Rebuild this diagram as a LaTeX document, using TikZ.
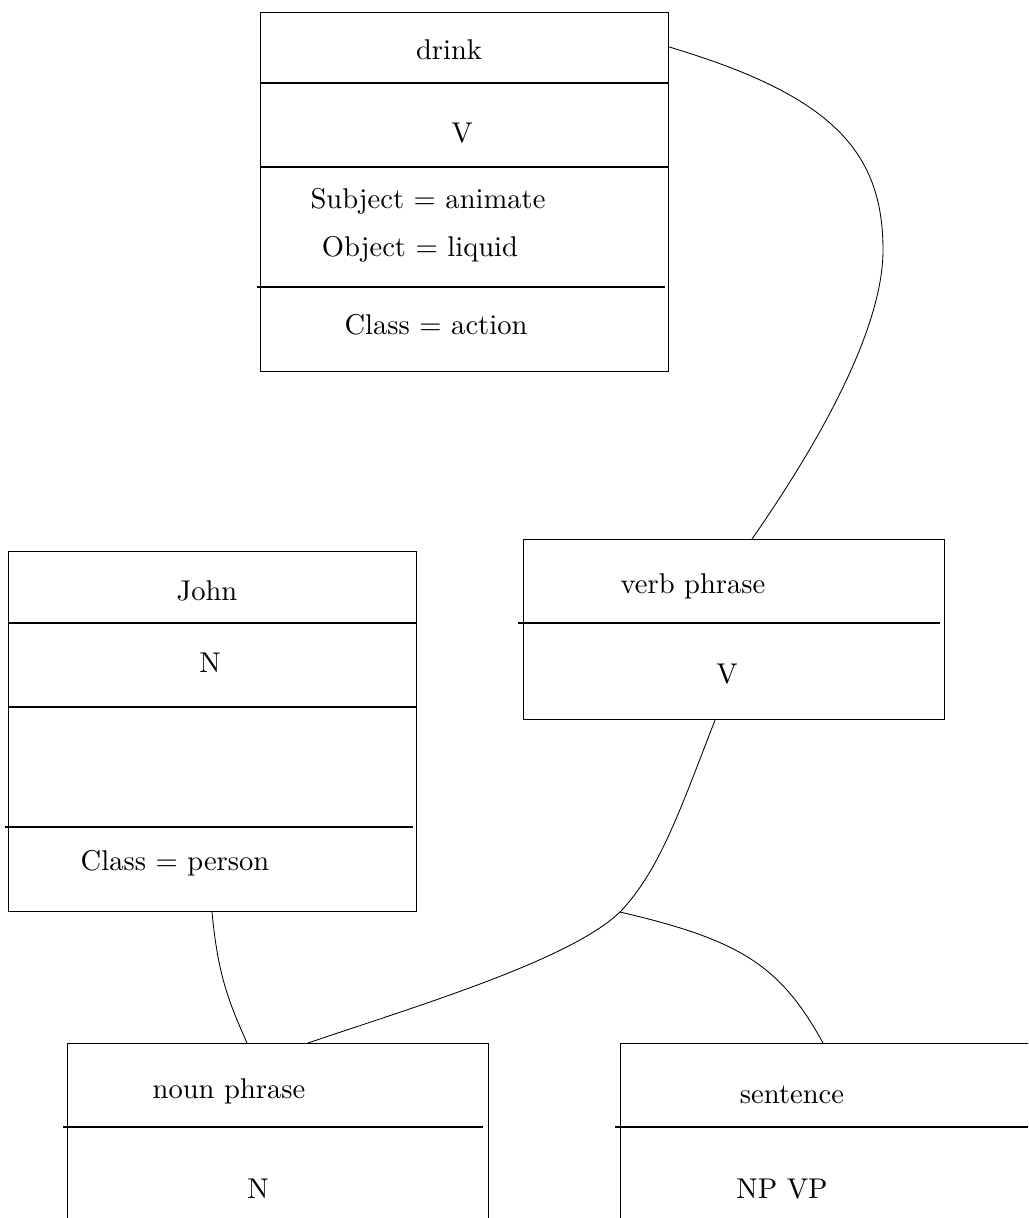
\documentclass[tikz,border=0pt]{standalone}
\usetikzlibrary{calc}
\def\u{0.35pt}
\tikzset{
  frame/.style={draw, rectangle, inner sep=0pt, anchor=north west, line width=0.4pt},
  lbl/.style={anchor=base, inner sep=0pt, font=\normalsize},
  rule/.style={line width=0.4pt},
  link/.style={line width=0.3pt}
}
\begin{document}
\begin{tikzpicture}[x=\u, y=-\u]
\clip (0,0) rectangle (1028,1218);

% lexical entry: drink
\node[frame, minimum width=408*\u, minimum height=359*\u] (drink) at (260,12) {};
\draw[rule] (260,83) -- (668,83);
\draw[rule] (260,167) -- (668,167);
\draw[rule] (257,287) -- (665,287);
\node[lbl] (drinkW) at (449,60) {drink};
\node[lbl] (drinkC) at (462,143) {V};
\node[lbl] (drinkS) at (428,209) {Subject = animate};
\node[lbl] (drinkO) at (420,257) {Object = liquid};
\node[lbl] (drinkK) at (436,335) {Class = action};

% lexical entry: John
\node[frame, minimum width=408*\u, minimum height=360*\u] (john) at (8,551) {};
\draw[rule] (8,623) -- (416,623);
\draw[rule] (8,707) -- (416,707);
\draw[rule] (5,827) -- (413,827);
\node[lbl] (johnW) at (207,600) {John};
\node[lbl] (johnC) at (210,672) {N};
\node[lbl] (johnK) at (175,870) {Class = person};

% rule: verb phrase
\node[frame, minimum width=421*\u, minimum height=180*\u] (vp) at (523,539) {};
\draw[rule] (518,623) -- (940,623);
\node[lbl] (vpW) at (693,593) {verb phrase};
\node[lbl] (vpC) at (727,683) {V};

% rule: noun phrase
\node[frame, minimum width=421*\u, minimum height=200*\u] (np) at (67,1043) {};
\draw[rule] (63,1127) -- (483,1127);
\node[lbl] (npW) at (229,1098) {noun phrase};
\node[lbl] (npC) at (258,1198) {N};

% rule: sentence
\node[frame, minimum width=440*\u, minimum height=200*\u] (s) at (620,1043) {};
\draw[rule] (615,1127) -- (1040,1127);
\node[lbl] (sW) at (792,1103) {sentence};
\node[lbl] (sC) at (782,1198) {NP VP};

% attachment points
\coordinate (drinkOut) at ($(drink.north east)+(0,35)$);
\coordinate (vpIn) at ($(vp.north west)+(229,0)$);
\coordinate (vpOut) at ($(vp.south west)+(192,0)$);
\coordinate (johnOut) at ($(john.south west)+(204,0)$);
\coordinate (npIn) at ($(np.north west)+(180,0)$);
\coordinate (npIn2) at ($(np.north west)+(241,0)$);
\coordinate (sIn) at ($(s.north west)+(203,0)$);
\coordinate (fork) at (620,912);

% connectors
\draw[link] (drinkOut) .. controls (830,95) and (883,150) .. (883,250)
            .. controls (883,340) and (800,470) .. (vpIn);
\draw[link] (vpOut) .. controls (680,810) and (660,870) .. (fork)
            .. controls (570,960) and (420,1005) .. (npIn2);
\draw[link] (fork) .. controls (740,940) and (780,965) .. (sIn);
\draw[link] (johnOut) .. controls (218,975) and (228,1000) .. (npIn);
\end{tikzpicture}
\end{document}
